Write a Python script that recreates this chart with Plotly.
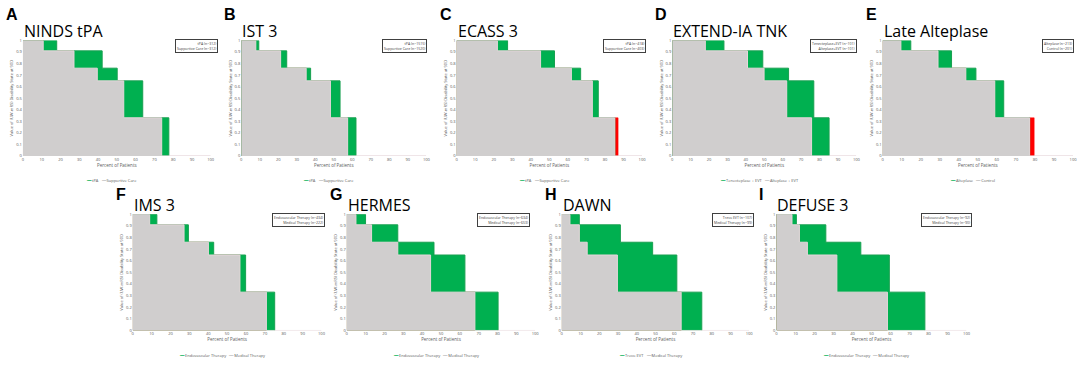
import plotly.graph_objects as go

# Utility weights of the mRS disability states (y levels)
levels = [1, 0.91, 0.76, 0.65, 0.33, 0]

panels = ["A", "B", "C", "D", "E", "F", "G", "H", "I"]
titles = ["NINDS tPA", "IST 3", "ECASS 3", "EXTEND-IA TNK", "Late Alteplase",
          "IMS 3", "HERMES", "DAWN", "DEFUSE 3"]
treat_names = ["tPA", "tPA", "tPA", "Tenecteplase + EVT", "Alteplase",
               "Endovascular Therapy", "Endovascular Therapy", "Trevo EVT", "Endovascular Therapy"]
ctrl_names = ["Supportive Care", "Supportive Care", "Supportive Care", "Alteplase + EVT", "Control",
              "Medical Therapy", "Medical Therapy", "Medical Therapy", "Medical Therapy"]
treat_box = ["tPA (n=312)", "tPA (n=1515)", "tPA (n=418)", "Tenecteplase+EVT (n=101)", "Alteplase (n=213)",
             "Endovascular Therapy (n=434)", "Endovascular Therapy (n=634)", "Trevo EVT (n=107)",
             "Endovascular Therapy (n=92)"]
ctrl_box = ["Supportive Care (n=312)", "Supportive Care (n=1520)", "Supportive Care (n=403)",
            "Alteplase+EVT (n=101)", "Control (n=201)", "Medical Therapy (n=222)",
            "Medical Therapy (n=653)", "Medical Therapy (n=99)", "Medical Therapy (n=90)"]

# Cumulative percent of patients at the end of each level (1, 0.91, 0.76, 0.65, 0.33)
treat_cum = [
    [18.0, 42.2, 50.2, 63.8, 77.7],
    [9.5, 24.6, 37.5, 53.4, 62.0],
    [27.5, 52.8, 66.9, 76.4, 85.3],
    [28.1, 49.2, 63.2, 76.9, 85.2],
    [14.8, 36.2, 49.0, 63.6, 77.2],
    [12.8, 29.5, 42.9, 59.8, 75.2],
    [10.0, 27.1, 46.3, 62.7, 80.3],
    [9.4, 31.3, 48.5, 61.4, 74.7],
    [10.5, 26.0, 44.4, 59.4, 78.1],
]
ctrl_cum = [
    [10.8, 27.2, 39.6, 53.7, 73.9],
    [7.9, 21.3, 35.1, 48.2, 57.5],
    [22.0, 45.3, 61.9, 73.2, 87.1],
    [18.0, 40.9, 49.9, 62.2, 75.7],
    [9.6, 29.1, 43.7, 58.9, 79.6],
    [9.0, 27.2, 40.1, 56.8, 70.8],
    [4.9, 13.2, 27.1, 44.5, 68.0],
    [4.4, 9.4, 13.6, 29.7, 63.7],
    [8.2, 12.1, 16.3, 31.8, 58.4],
]
x_ticks = [0, 10, 20, 30, 40, 50, 60, 70, 80, 90, 100]
y_ticks = [0, 0.1, 0.2, 0.3, 0.4, 0.5, 0.6, 0.7, 0.8, 0.9, 1]

W, H = 1084, 366
# plot areas in pixels: (x0, x1, ytop, ybottom)
top = (38, 155)
bot = (214.3, 332)
areas = [
    (22, 210.7, *top), (241.3, 427.3, *top), (457.7, 644, *top), (674.3, 859.3, *top), (885.7, 1077, *top),
    (132.3, 322, *bot), (347.3, 536.7, *bot), (563.3, 751.7, *bot), (779, 970, *bot),
]
box_right = [218, 428, 648, 860, 1078, 325, 531, 756, 975]

GREEN = "#00B050"
GREEN_LINE = "#18A050"
GRAY = "#D0CECE"
RED = "#FF0000"

fig = go.Figure()
annotations = []


def step_xy(cum):
    return [0] + list(cum), list(levels)


for i in range(9):
    k = "" if i == 0 else str(i + 1)
    xa, ya = "x" + k, "y" + k
    tx, ty = step_xy(treat_cum[i])
    cx, cy = step_xy(ctrl_cum[i])
    mn = [min(a, b) for a, b in zip(treat_cum[i], ctrl_cum[i])]
    mx, my = step_xy(mn)
    # control area (red where control beats treatment)
    fig.add_trace(go.Scatter(x=cx, y=cy, line_shape="hv", mode="lines", fill="tozeroy",
                             fillcolor=RED, line=dict(color=RED, width=0.5),
                             xaxis=xa, yaxis=ya, showlegend=False, hoverinfo="skip"))
    # treatment area (green)
    fig.add_trace(go.Scatter(x=tx, y=ty, line_shape="hv", mode="lines", fill="tozeroy",
                             fillcolor=GREEN, line=dict(color=GREEN_LINE, width=1),
                             xaxis=xa, yaxis=ya, showlegend=False, hoverinfo="skip"))
    # common (minimum) area in gray, with baseline continuing to 100
    fig.add_trace(go.Scatter(x=mx + [100], y=my + [0], line_shape="hv", mode="lines", fill="tozeroy",
                             fillcolor=GRAY, line=dict(color="#E6D6DA", width=1),
                             xaxis=xa, yaxis=ya, showlegend=False, hoverinfo="skip"))

    x0, x1, yt, yb = areas[i]
    dom_x = [x0 / W, x1 / W]
    dom_y = [1 - yb / H, 1 - yt / H]
    fig.update_layout(**{
        "xaxis" + k: dict(domain=dom_x, range=[0, 100], tickvals=x_ticks, showgrid=False, zeroline=False,
                          showline=False, ticks="", tickfont=dict(size=4, color="#595959"),
                          title=dict(text="Percent of Patients", font=dict(size=4.5, color="#595959"), standoff=2),
                          anchor=ya, fixedrange=True),
        "yaxis" + k: dict(domain=dom_y, range=[0, 1.0], tickvals=y_ticks, showgrid=False, zeroline=False,
                          showline=False, ticks="", tickfont=dict(size=4, color="#595959"),
                          title=dict(text="Value of (UW-mRS) Disability State at 90D",
                                     font=dict(size=4, color="#595959"), standoff=2),
                          anchor=xa, fixedrange=True),
    })
    row_top = i < 5
    # panel letter
    annotations.append(dict(x=(x0 - 19) / W, y=1 - (yt - (26 if row_top else 20)) / H,
                            xref="paper", yref="paper",
                            text="<b>" + panels[i] + "</b>", showarrow=False, xanchor="left", yanchor="middle",
                            font=dict(size=16, family="Liberation Sans", color="black")))
    # title
    annotations.append(dict(x=(x0 - 1) / W, y=1 - (yt - 10) / H, xref="paper", yref="paper",
                            text=titles[i], showarrow=False, xanchor="left", yanchor="middle",
                            font=dict(size=16, family="Open Sans", color="black")))
    # box legend
    annotations.append(dict(x=box_right[i] / W, y=1 - (yt - 1) / H, xref="paper", yref="paper",
                            text=treat_box[i] + "<br>" + ctrl_box[i], showarrow=False,
                            xanchor="right", yanchor="top", align="right",
                            bordercolor="#404040", borderwidth=1, borderpad=1, bgcolor="white",
                            font=dict(size=3.5, color="#404040")))
    # bottom legend
    annotations.append(dict(x=((x0 + x1) / 2 - 5) / W, y=1 - (yb + 25) / H, xref="paper", yref="paper",
                            text="<span style='color:%s'>━━</span> %s   <span style='color:#BFBFBF'>━━</span> %s"
                                 % (GREEN, treat_names[i], ctrl_names[i]),
                            showarrow=False, xanchor="center", yanchor="middle",
                            font=dict(size=4, color="#595959")))

fig.update_layout(width=W, height=H, margin=dict(l=0, r=0, t=0, b=0),
                  paper_bgcolor="white", plot_bgcolor="white", showlegend=False,
                  annotations=annotations, font=dict(family="Open Sans"))
fig.write_html("out.html", config={"displayModeBar": False},
               post_script="document.body.style.margin='0px';")
